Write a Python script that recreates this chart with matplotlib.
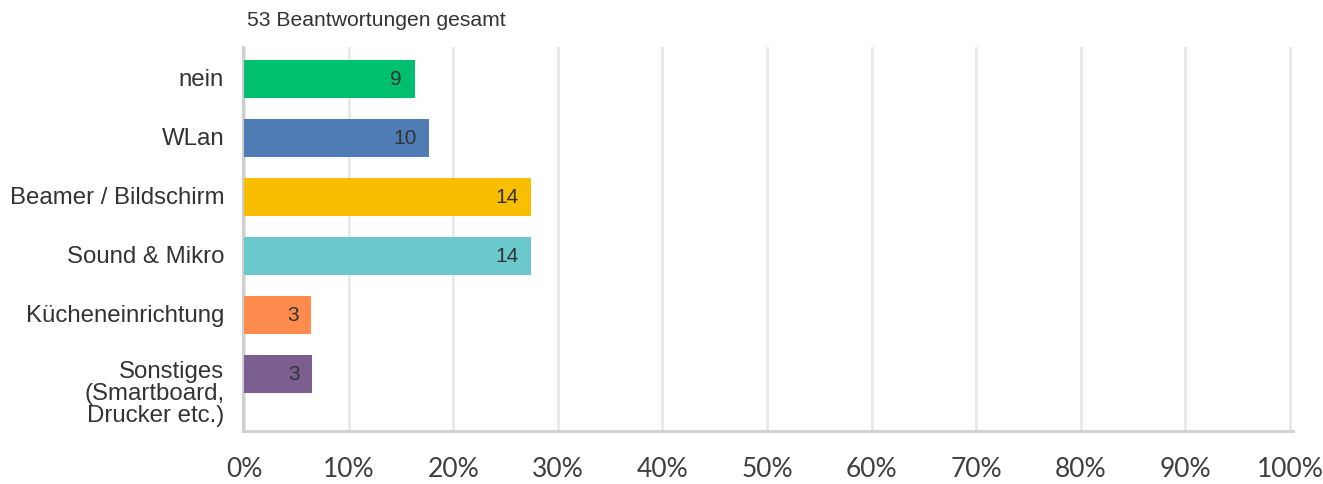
import matplotlib.pyplot as plt

# values
categories = ["nein", "WLan", "Beamer / Bildschirm", "Sound & Mikro",
              "Kücheneinrichtung", "Sonstiges\n(Smartboard,\nDrucker etc.)"]
counts = [9, 10, 14, 14, 3, 3]
percents = [16.3, 17.7, 27.4, 27.4, 6.4, 6.5]
colors = ["#00bf6f", "#507cb6", "#f9be00", "#6bc8cd", "#ff8b4f", "#7d5e90"]
ticks = [0, 10, 20, 30, 40, 50, 60, 70, 80, 90, 100]
tick_labels = [str(t) + "%" for t in ticks]

fig = plt.figure(figsize=(13.23, 4.85), dpi=100)
ax = fig.add_axes([0.1837, 0.1093, 0.7937, 0.7917])

pos = list(range(len(categories)))
ax.barh(pos, percents, height=0.64, color=colors, zorder=3)

for i in pos:
    ax.annotate(str(counts[i]), (percents[i], i), xytext=(-9, 0),
                textcoords="offset points", ha="right", va="center",
                fontsize=15, color="#333333", family="Liberation Sans", zorder=4)
    # category labels, multi-line one sits a bit lower like in the original
    y = i + 0.32 if "\n" in categories[i] else i
    ax.text(-0.018, y, categories[i], transform=ax.get_yaxis_transform(),
            ha="right", va="center", fontsize=17.3, color="#333333",
            family="Liberation Sans", linespacing=1.0)

ax.set_ylim(5.97, -0.54)
ax.set_xlim(-0.1, 100.3)
ax.set_yticks([])
ax.set_xticks(ticks)
ax.set_xticklabels(tick_labels, fontsize=19, color="#3c4043", family="Lato")
ax.tick_params(axis="x", length=0, pad=18)

ax.grid(axis="x", color="#e8e8e8", linewidth=2, zorder=0)
for s in ["top", "right"]:
    ax.spines[s].set_visible(False)
ax.spines["left"].set_color("#cccccc")
ax.spines["left"].set_linewidth(2)
ax.spines["bottom"].set_color("#d0d0d0")
ax.spines["bottom"].set_linewidth(2)

fig.text(0.1867, 0.958, "53 Beantwortungen gesamt", fontsize=15.2,
         color="#333333", family="Liberation Sans", va="center")

fig.savefig("out.png", dpi=100)
